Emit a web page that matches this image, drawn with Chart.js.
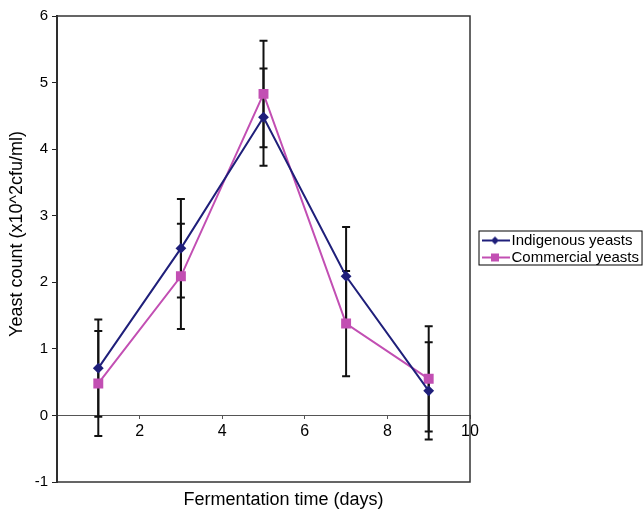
<!DOCTYPE html>
<html>
<head>
<meta charset="utf-8">
<script src="https://cdn.jsdelivr.net/npm/chart.js@4.4.1/dist/chart.umd.min.js"></script>
<style>
  html, body { margin: 0; padding: 0; background: #fff; }
  #wrap { width: 643px; height: 512px; }
</style>
</head>
<body>
<div id="wrap"><canvas id="myChart"></canvas></div>
<script>
// fermentation days
const days = [1, 3, 5, 7, 9];
// yeast counts (x10^2 cfu/ml) and their error bars
const indigenous = [0.71, 2.51, 4.48, 2.09, 0.37];
const indigenousErr = [0.73, 0.74, 0.73, 0.74, 0.73];
const commercial = [0.48, 2.09, 4.83, 1.38, 0.55];
const commercialErr = [0.79, 0.79, 0.80, 0.79, 0.79];

const xTitle = 'Fermentation time (days)';
const yTitle = 'Yeast count (x10^2cfu/ml)';

const navy = '#1f1f7a';
const magenta = '#c24fb3';
const font = 'Liberation Sans, Arial, sans-serif';

function pts(ys, errs) {
    return days.map((d, i) => ({ x: d, y: ys[i], err: errs[i] }));
}

// line + marker picture for the legend; wider than the legend box,
// so the left part stays empty and the line runs up to the text
function legendIcon(color, shape) {
    const c = document.createElement('canvas');
    c.width = 44; c.height = 10;
    const g = c.getContext('2d');
    g.strokeStyle = color; g.lineWidth = 2;
    g.beginPath(); g.moveTo(16, 5); g.lineTo(44, 5); g.stroke();
    g.fillStyle = color;
    g.beginPath();
    if (shape === 'diamond') {
        g.moveTo(29, 1); g.lineTo(33, 5); g.lineTo(29, 9); g.lineTo(25, 5);
    } else {
        g.rect(25, 1, 8, 8);
    }
    g.fill();
    return c;
}

// error bars, drawn under the lines and markers
const errorBars = {
    id: 'errorBars',
    beforeDatasetsDraw(chart) {
        const ctx = chart.ctx;
        const xs = chart.scales.x, ys = chart.scales.y;
        ctx.save();
        ctx.strokeStyle = '#111';
        ctx.lineWidth = 2;
        chart.data.datasets.forEach(ds => {
            ds.data.forEach(p => {
                const px = xs.getPixelForValue(p.x);
                const top = ys.getPixelForValue(p.y + p.err);
                const bot = ys.getPixelForValue(p.y - p.err);
                ctx.beginPath();
                ctx.moveTo(px, top); ctx.lineTo(px, bot);
                ctx.moveTo(px - 4, top); ctx.lineTo(px + 4, top);
                ctx.moveTo(px - 4, bot); ctx.lineTo(px + 4, bot);
                ctx.stroke();
            });
        });
        ctx.restore();
    }
};

// plot frame, axis titles and legend border
const frame = {
    id: 'frame',
    afterDraw(chart) {
        const ctx = chart.ctx;
        const a = chart.chartArea;
        ctx.save();
        ctx.strokeStyle = '#333';
        ctx.lineWidth = 1.5;
        ctx.strokeRect(a.left, a.top, a.right - a.left, a.bottom - a.top);

        // axis titles (Excel centres them a bit off the plot centre)
        ctx.fillStyle = '#000';
        ctx.font = '18px ' + font;
        ctx.textAlign = 'center';
        ctx.textBaseline = 'middle';
        ctx.fillText(xTitle, (a.left + a.right) / 2 + 20, a.bottom + 18);
        ctx.save();
        ctx.translate(17, (a.top + a.bottom) / 2 - 15);
        ctx.rotate(-Math.PI / 2);
        ctx.fillText(yTitle, 0, 0);
        ctx.restore();

        const boxes = chart.legend.legendHitBoxes;
        if (boxes && boxes.length) {
            const l = Math.min(...boxes.map(b => b.left)) + 7;
            const t = boxes[0].top - 2;
            const r = Math.max(...boxes.map(b => b.left + b.width)) + 3;
            const last = boxes[boxes.length - 1];
            const b = last.top + last.height;
            ctx.lineWidth = 1;
            ctx.strokeStyle = '#000';
            ctx.strokeRect(l, t, r - l, b - t);
        }
        ctx.restore();
    }
};

const config = {
    type: 'scatter',
    data: {
        datasets: [{
            label: 'Indigenous yeasts',
            data: pts(indigenous, indigenousErr),
            borderColor: navy,
            backgroundColor: navy,
            showLine: true,
            borderWidth: 2,
            pointStyle: 'rectRot',
            pointRadius: 4,
            xAxisID: 'x',
            yAxisID: 'y'
        }, {
            label: 'Commercial yeasts',
            data: pts(commercial, commercialErr),
            borderColor: magenta,
            backgroundColor: magenta,
            showLine: true,
            borderWidth: 2,
            pointStyle: 'rect',
            pointRadius: 5.6,
            xAxisID: 'x',
            yAxisID: 'y'
        }]
    },
    options: {
        responsive: true,
        maintainAspectRatio: false,
        animation: false,
        layout: { padding: { top: 16, right: 0, left: 0, bottom: 30 } },
        scales: {
            x: {
                type: 'linear',
                position: { y: 0 },
                min: 0, max: 10,
                ticks: {
                    stepSize: 2,
                    color: '#000',
                    font: { family: font, size: 16 },
                    padding: 4,
                    callback: v => (v === 0 ? '' : v)
                },
                grid: { drawOnChartArea: false, color: '#555', tickLength: 3 },
                border: { color: '#555', width: 1 }
            },
            y: {
                min: -1, max: 6,
                ticks: {
                    stepSize: 1,
                    color: '#000',
                    font: { family: font, size: 15 },
                    padding: 4
                },
                grid: { drawOnChartArea: false, color: '#222', tickLength: 5 },
                border: { color: '#222', width: 2 },
                afterFit: s => { s.width = 57; }
            }
        },
        plugins: {
            legend: {
                position: 'right',
                maxWidth: 173,
                labels: {
                    usePointStyle: true,
                    pointStyleWidth: 32,
                    padding: 2,
                    color: '#000',
                    font: { family: font, size: 15 },
                    generateLabels: chart => chart.data.datasets.map((ds, i) => ({
                        text: ds.label,
                        pointStyle: legendIcon(ds.borderColor, i === 0 ? 'diamond' : 'square'),
                        fillStyle: ds.borderColor,
                        strokeStyle: ds.borderColor,
                        lineWidth: 0,
                        datasetIndex: i
                    }))
                }
            },
            tooltip: { enabled: false }
        }
    },
    plugins: [errorBars, frame]
};

// Render the chart
const ctx = document.getElementById('myChart').getContext('2d');
const myChart = new Chart(ctx, config);
</script>
</body>
</html>
